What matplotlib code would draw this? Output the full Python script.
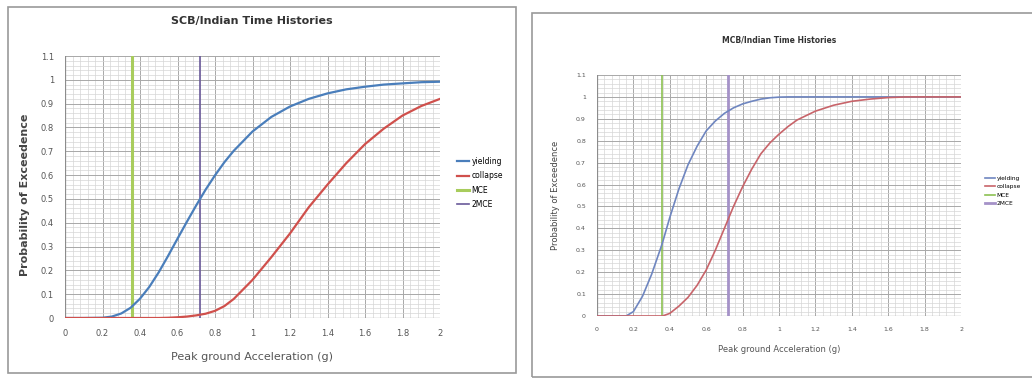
import matplotlib.pyplot as plt
from matplotlib.patches import Rectangle
from matplotlib.ticker import MultipleLocator

# ---- data ----
scb_x = [0, 0.1, 0.2, 0.25, 0.3, 0.35, 0.4, 0.45, 0.5, 0.55, 0.6, 0.65, 0.7, 0.75,
         0.8, 0.85, 0.9, 1.0, 1.1, 1.2, 1.3, 1.4, 1.5, 1.6, 1.7, 1.8, 1.9, 2.0]
scb_yield = [0, 0, 0.001, 0.006, 0.019, 0.043, 0.081, 0.131, 0.192, 0.261, 0.333,
             0.404, 0.473, 0.539, 0.599, 0.654, 0.702, 0.783, 0.844, 0.888, 0.920,
             0.943, 0.960, 0.971, 0.980, 0.985, 0.990, 0.992]
scb_collapse = [0, 0, 0, 0, 0, 0, 0, 0, 0, 0.001, 0.003, 0.006, 0.011, 0.018,
                0.03, 0.05, 0.08, 0.16, 0.255, 0.355, 0.465, 0.56, 0.65, 0.73,
                0.795, 0.85, 0.89, 0.92]

mcb_x = [0, 0.1, 0.16, 0.2, 0.25, 0.3, 0.35, 0.36, 0.4, 0.45, 0.5, 0.55, 0.6, 0.65,
         0.7, 0.75, 0.8, 0.85, 0.9, 0.95, 1.0, 1.05, 1.1, 1.2, 1.3, 1.4, 1.5, 1.6,
         1.7, 1.8, 2.0]
mcb_yield = [0, 0, 0, 0.02, 0.09, 0.19, 0.31, 0.335, 0.45, 0.58, 0.69, 0.775, 0.845,
             0.89, 0.925, 0.95, 0.968, 0.98, 0.99, 0.996, 0.999, 1.0, 1.0, 1.0, 1.0,
             1.0, 1.0, 1.0, 1.0, 1.0, 1.0]
mcb_collapse = [0, 0, 0, 0, 0, 0, 0, 0, 0.012, 0.045, 0.085, 0.14, 0.21, 0.30, 0.40,
                0.50, 0.59, 0.67, 0.74, 0.79, 0.83, 0.865, 0.895, 0.935, 0.962, 0.98,
                0.99, 0.997, 1.0, 1.0, 1.0]

mce = 0.355
two_mce = 0.72
series_names = ['yielding', 'collapse', 'MCE', '2MCE']

fig = plt.figure(figsize=(10.32, 3.78), dpi=100)
W, H = 1032.0, 378.0

def px(x0, y0, x1, y1):
    # pixel box -> figure fraction [left, bottom, width, height]
    return [x0 / W, 1 - y1 / H, (x1 - x0) / W, (y1 - y0) / H]

# chart frames
for x0, y0, x1, y1 in [(8, 7, 516, 373), (532, 13, 1040, 377)]:
    fig.patches.append(Rectangle((x0 / W, 1 - y1 / H), (x1 - x0) / W, (y1 - y0) / H,
                                 transform=fig.transFigure, fill=False,
                                 edgecolor='#9a9a9a', linewidth=1.2))

def draw(ax, x, y1, y2, colors, lws, fs):
    ax.plot(x, y1, color=colors[0], lw=lws[0], label=series_names[0], zorder=4)
    ax.plot(x, y2, color=colors[1], lw=lws[1], label=series_names[1], zorder=4)
    ax.plot([mce, mce], [0, 1.1], color=colors[2], lw=lws[2], label=series_names[2], zorder=3)
    ax.plot([two_mce, two_mce], [0, 1.1], color=colors[3], lw=lws[3], label=series_names[3], zorder=3)
    ax.set_xlim(0, 2)
    ax.set_ylim(0, 1.1)
    ax.xaxis.set_major_locator(MultipleLocator(0.2))
    ax.xaxis.set_minor_locator(MultipleLocator(0.04))
    ax.yaxis.set_major_locator(MultipleLocator(0.1))
    ax.yaxis.set_minor_locator(MultipleLocator(0.02))
    ax.grid(which='major', color='#a8a8a8', lw=0.7)
    ax.grid(which='minor', color='#d6d6d6', lw=0.5)
    ax.set_axisbelow(True)
    ax.set_xticks([0, 0.2, 0.4, 0.6, 0.8, 1.0, 1.2, 1.4, 1.6, 1.8, 2.0])
    ax.set_xticklabels(['0', '0.2', '0.4', '0.6', '0.8', '1', '1.2', '1.4', '1.6', '1.8', '2'])
    ax.set_yticks([0, 0.1, 0.2, 0.3, 0.4, 0.5, 0.6, 0.7, 0.8, 0.9, 1.0, 1.1])
    ax.set_yticklabels(['0', '0.1', '0.2', '0.3', '0.4', '0.5', '0.6', '0.7', '0.8', '0.9', '1', '1.1'])
    ax.tick_params(which='both', length=0, labelsize=fs, labelcolor='#555555', pad=8)
    for s in ax.spines.values():
        s.set_visible(False)
    ax.axhline(0, color='#8c8c8c', lw=0.9, zorder=2)
    ax.axvline(0, color='#8c8c8c', lw=0.9, zorder=2)

# left chart: SCB
ax1 = fig.add_axes(px(65, 56, 440, 318))
draw(ax1, scb_x, scb_yield, scb_collapse,
     ['#4a7ebb', '#d0504c', '#a8cc5c', '#6a5a9a'], [1.6, 1.6, 2.2, 1.2], 6)
fig.text(252 / W, 1 - 21 / H, 'SCB/Indian Time Histories', ha='center', va='center',
         fontsize=8, color='#333333', fontweight='bold')
fig.text(252 / W, 1 - 357 / H, 'Peak ground Acceleration (g)', ha='center', va='center',
         fontsize=8, color='#555555')
fig.text(25 / W, 1 - 195 / H, 'Probability of Exceedence', ha='center', va='center',
         rotation=90, fontsize=8, color='#444444', fontweight='bold')
ax1.legend(loc='center left', bbox_to_anchor=(450 / W, 1 - 183 / H),
           bbox_transform=fig.transFigure, frameon=False, fontsize=5.5,
           handlelength=1.6, handletextpad=0.3, labelspacing=0.7)

# right chart: MCB
ax2 = fig.add_axes(px(597, 75, 961, 316))
draw(ax2, mcb_x, mcb_yield, mcb_collapse,
     ['#6f86c0', '#c8646a', '#8cc152', '#a592c8'], [1.2, 1.2, 1.2, 2.0], 4.5)
fig.text(779 / W, 1 - 40 / H, 'MCB/Indian Time Histories', ha='center', va='center',
         fontsize=5.5, color='#333333', fontweight='bold')
fig.text(779 / W, 1 - 349 / H, 'Peak ground Acceleration (g)', ha='center', va='center',
         fontsize=6, color='#555555')
fig.text(555 / W, 1 - 195 / H, 'Probability of Exceedence', ha='center', va='center',
         rotation=90, fontsize=6, color='#444444')
ax2.legend(loc='center left', bbox_to_anchor=(980 / W, 1 - 191 / H),
           bbox_transform=fig.transFigure, frameon=False, fontsize=4.2,
           handlelength=1.6, handletextpad=0.3, labelspacing=0.6)

plt.savefig('out.png', dpi=100)
